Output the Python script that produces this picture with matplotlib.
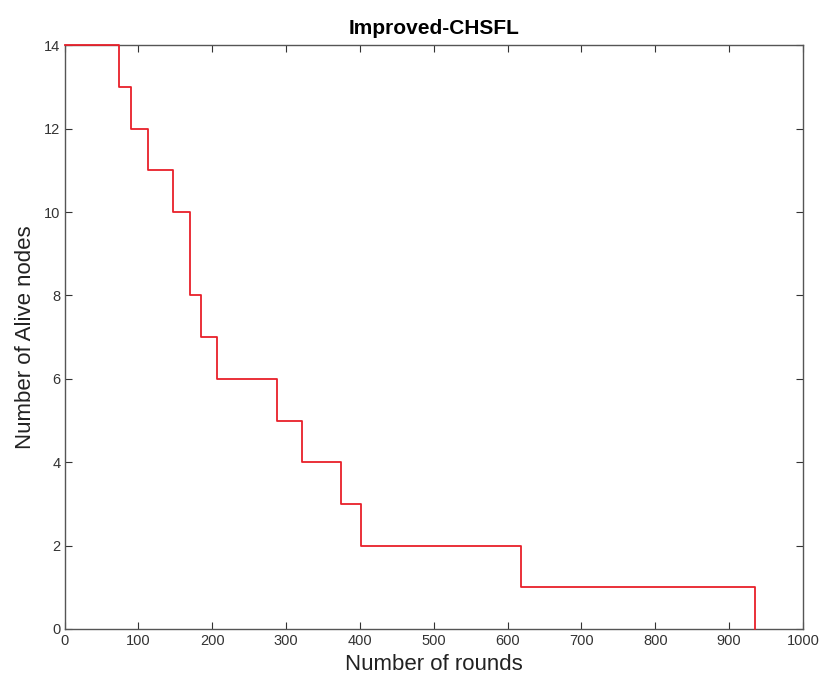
import matplotlib
matplotlib.use("Agg")
import matplotlib.pyplot as plt

rounds = [0, 74, 90, 113, 147, 170, 185, 207, 288, 322, 374, 401, 618, 935]
alive = [14, 13, 12, 11, 10, 8, 7, 6, 5, 4, 3, 2, 1, 0]
xticks = list(range(0, 1001, 100))
yticks = list(range(0, 15, 2))

plt.rcParams['font.family'] = ['Liberation Sans', 'DejaVu Sans']
fig = plt.figure(figsize=(8.23, 6.77), dpi=100)
ax = fig.add_axes([0.0784, 0.071, 0.9756 - 0.0784, 0.933 - 0.071])
ax.plot(rounds, alive, drawstyle='steps-post', color='#e8202a', lw=1.3,
        zorder=5, clip_on=False)
ax.set_xlim(0, 1000)
ax.set_ylim(0, 14)
ax.set_xticks(xticks)
ax.set_yticks(yticks)
for s in ax.spines.values():
    s.set_color('#555555')
    s.set_linewidth(1.0)
ax.tick_params(direction='in', top=True, right=True, colors='#333333', labelsize=10.5, length=5)
ax.tick_params(axis='x', pad=4)
ax.tick_params(axis='y', pad=3)
ax.set_xlabel('Number of rounds', fontsize=16, labelpad=4, color='#222222')
ax.set_ylabel('Number of Alive nodes', fontsize=16, labelpad=6, color='#222222')
ax.set_title('Improved-CHSFL', fontsize=15, fontweight='bold', pad=8)
fig.savefig('out.png', dpi=100)
